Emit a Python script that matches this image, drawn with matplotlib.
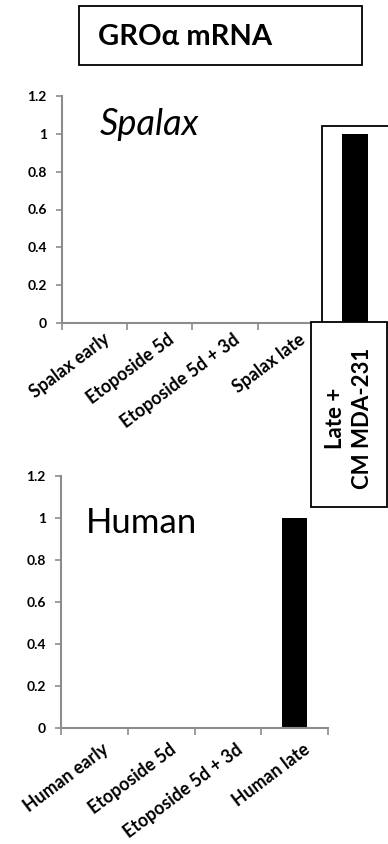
import matplotlib
matplotlib.use("Agg")
import matplotlib.pyplot as plt
from matplotlib.patches import Rectangle

plt.rcParams['font.family'] = ['Lato', 'DejaVu Sans']

# ---- data ----
title = "GROα mRNA"
spalax_categories = ["Spalax early", "Etoposide 5d", "Etoposide 5d + 3d", "Spalax late", "Late +\nCM MDA-231"]
spalax_values = [0, 0, 0, 0, 1]
human_categories = ["Human early", "Etoposide 5d", "Etoposide 5d + 3d", "Human late"]
human_values = [0, 0, 0, 1]
y_ticks = [0, 0.2, 0.4, 0.6, 0.8, 1.0, 1.2]
y_tick_labels = ["0", "0.2", "0.4", "0.6", "0.8", "1", "1.2"]

W, H = 388, 844
fig = plt.figure(figsize=(W / 100, H / 100), dpi=100)
axis_col = "#8c8c8c"


def px(x0, y0, x1, y1):
    # pixel box (top-left origin) -> figure fraction rect
    return [x0 / W, 1 - y1 / H, (x1 - x0) / W, (y1 - y0) / H]


def style(ax, cats, n_labels, dy):
    ax.set_ylim(0, 1.2)
    ax.set_xlim(-0.5, len(cats) - 0.5)
    for s in ["top", "right"]:
        ax.spines[s].set_visible(False)
    for s in ["left", "bottom"]:
        ax.spines[s].set_color(axis_col)
        ax.spines[s].set_linewidth(1.5)
    ax.set_yticks(y_ticks)
    ax.set_yticklabels(y_tick_labels, fontsize=10, fontweight="bold")
    ax.tick_params(axis="y", length=4, width=1.2, color=axis_col, pad=7)
    ax.set_xticks([i - 0.5 for i in range(len(cats) + 1)])
    ax.set_xticklabels([])
    ax.tick_params(axis="x", length=5, width=1.2, color=axis_col)
    for i in range(n_labels):
        ax.annotate(cats[i], xy=(i, 0), xycoords=("data", "axes fraction"),
                    xytext=(5.5, dy), textcoords="offset points",
                    rotation=37, rotation_mode="anchor", ha="right", va="top",
                    fontsize=12.8, fontweight="bold", annotation_clip=False)


# Top (Spalax) chart
ax1 = fig.add_axes(px(62, 96, 388, 323))
x1 = list(range(len(spalax_categories)))
bars1 = ax1.bar(x1, spalax_values, width=0.4, color="black")
style(ax1, spalax_categories, 4, -5.5)
ax1.text(0.08, 0.994, "Spalax", fontsize=26, style="italic", ha="left", va="baseline")
# frame around the highlighted bar
b = bars1[4]
cx = b.get_x() + b.get_width() / 2
ax1.add_patch(Rectangle((cx - 0.51, 0), 1.02, 1.04, fill=False, ec="black", lw=1.3, clip_on=False, zorder=3))

# label box for the last Spalax category
fig.add_artist(Rectangle((311 / W, 1 - 507 / H), 75.5 / W, 185 / H, transform=fig.transFigure,
                         facecolor="white", edgecolor="black", lw=1.3))
fig.text(349 / W, 1 - 418 / H, spalax_categories[4], rotation=90, ha="center", va="center",
         multialignment="center", fontsize=16, fontweight="bold", linespacing=1.3)

# Bottom (Human) chart
ax2 = fig.add_axes(px(61, 476, 328, 728))
x2 = list(range(len(human_categories)))
ax2.bar(x2, human_values, width=0.375, color="black")
style(ax2, human_categories, 4, -9)
ax2.text(-0.125, 0.929, "Human", fontsize=25, ha="left", va="baseline")

# Title box
fig.add_artist(Rectangle((79 / W, 1 - 65 / H), 283 / W, 59 / H, transform=fig.transFigure,
                         facecolor="white", edgecolor="black", lw=1.3))
fig.text(98 / W, 1 - 37 / H, title, fontsize=21, fontweight="bold", ha="left", va="center")

fig.savefig("out.png", dpi=100)
